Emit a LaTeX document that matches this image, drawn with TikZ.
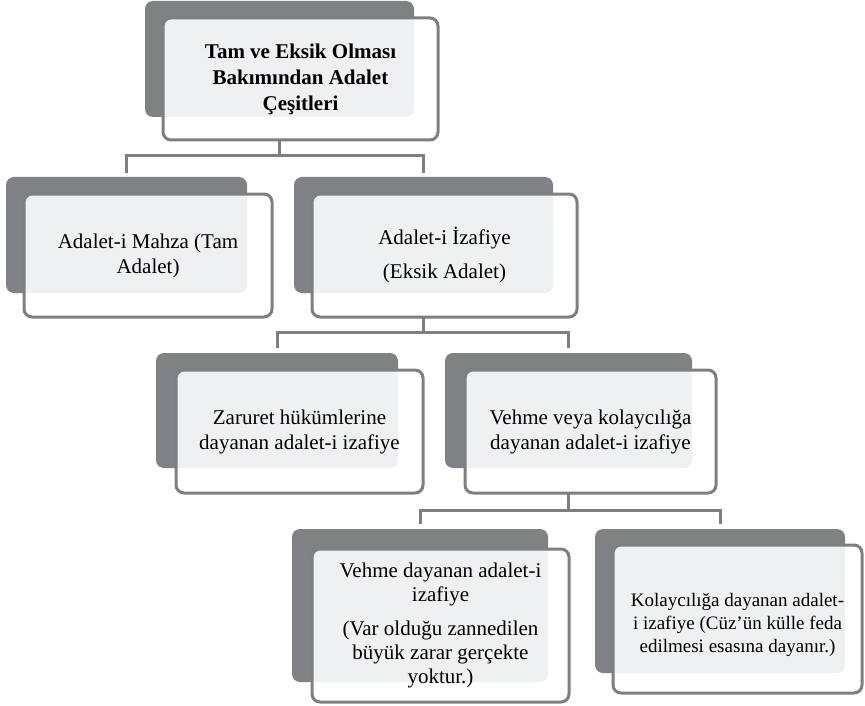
\documentclass[tikz,border=0pt]{standalone}
\usepackage{fontspec}
\setmainfont{Liberation Serif}
\definecolor{darkg}{HTML}{808184}
\definecolor{lineg}{HTML}{7F7F7F}
\definecolor{lightg}{HTML}{EFF0F2}
\tikzset{
  darkbox/.style={fill=darkg, rounded corners=8pt, inner sep=0pt, outer sep=0pt},
  frontbox/.style={draw=lineg, line width=3pt, fill=white, rounded corners=8pt,
    inner sep=0pt, outer sep=0pt, align=center, font=\fontsize{21}{25}\selectfont,
    path picture={\fill[lightg, rounded corners=8pt] (#1.south west) rectangle (#1.north east);}},
  boxtext/.style={inner sep=0pt, align=center},
  conn/.style={draw=lineg, line width=3pt}
}
\begin{document}
\begin{tikzpicture}[x=1pt,y=-1pt]
\useasboundingbox (0,0) rectangle (865,706);
% B1
\node[darkbox, minimum width=269pt, minimum height=116pt] (d1) at (279.5,59) {};
\node[frontbox=d1, minimum width=275pt, minimum height=122pt, font=\fontsize{21}{26}\selectfont\bfseries] (f1) at (300.5,79) {Tam ve Eksik Olması\\Bakımından Adalet\\Çeşitleri};
% B2
\node[darkbox, minimum width=241pt, minimum height=116pt] (d2) at (126.5,235) {};
\node[frontbox=d2, minimum width=248pt, minimum height=123pt] (f2) at (148,255.5) {Adalet-i Mahza (Tam\\Adalet)};
% B3
\node[darkbox, minimum width=259pt, minimum height=116pt] (d3) at (423.5,235) {};
\node[frontbox=d3, minimum width=265pt, minimum height=123pt] (f3) at (444.5,255.5) {Adalet-i İzafiye\\[9pt](Eksik Adalet)};
% B4
\node[darkbox, minimum width=242pt, minimum height=115pt] (d4) at (277,410.5) {};
\node[frontbox=d4, minimum width=247pt, minimum height=123pt] (f4) at (299.5,431.5) {Zaruret hükümlerine\\dayanan adalet-i izafiye};
% B5
\node[darkbox, minimum width=247pt, minimum height=115pt] (d5) at (568.5,410.5) {};
\node[frontbox=d5, minimum width=251pt, minimum height=123pt] (f5) at (590.5,431.5) {Vehme veya kolaycılığa\\dayanan adalet-i izafiye};
% B6
\node[darkbox, minimum width=256pt, minimum height=153pt] (d6) at (420,605.5) {};
\node[frontbox=d6, minimum width=257pt, minimum height=153pt, font=\fontsize{21}{24}\selectfont] (f6) at (440.5,625.5) {Vehme dayanan adalet-i\\izafiye\\[10pt](Var olduğu zannedilen\\büyük zarar gerçekte\\yoktur.)};
% B7
\node[darkbox, minimum width=250pt, minimum height=144pt] (d7) at (720,601) {};
\node[frontbox=d7, minimum width=249pt, minimum height=148pt] (f7) at (737.5,619) {};
\node[boxtext, font=\fontsize{19}{23}\selectfont] (t7) at ([yshift=-6pt]f7.center) {Kolaycılığa dayanan adalet-\\i izafiye (Cüz’ün külle feda\\edilmesi esasına dayanır.)};
% connectors
\coordinate (j1) at (d1 |- 0,156);
\coordinate (j2) at (d3 |- 0,332);
\coordinate (j3) at (d5 |- 0,510);
\draw[conn] (d1 |- f1.south) -- (j1);
\draw[conn] ([yshift=4pt]d2.north) |- (j1) -| ([yshift=4pt]d3.north);
\draw[conn] (d3 |- f3.south) -- (j2);
\draw[conn] ([yshift=5pt]d4.north) |- (j2) -| ([yshift=5pt]d5.north);
\draw[conn] (d5 |- f5.south) -- (j3);
\draw[conn] ([yshift=5pt]d6.north) |- (j3) -| ([yshift=5pt]d7.north);
\end{tikzpicture}
\end{document}
